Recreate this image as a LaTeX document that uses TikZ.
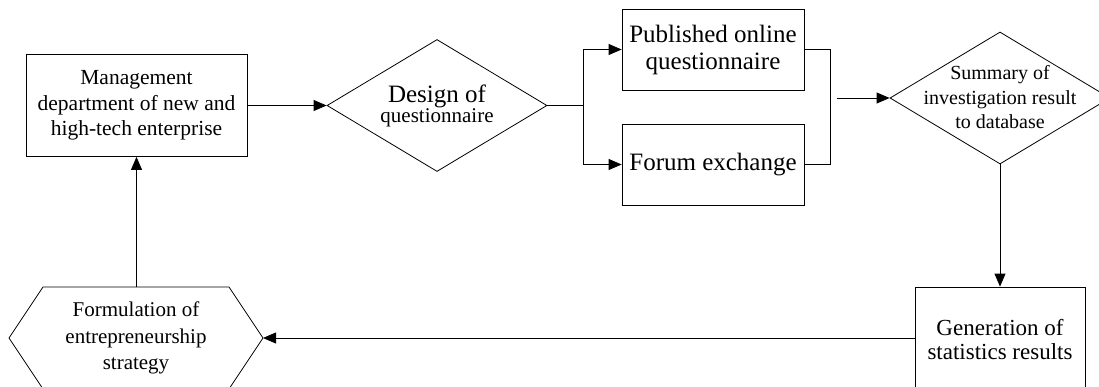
\documentclass[tikz,border=0pt]{standalone}
\usepackage{fontspec}
\setmainfont{Liberation Serif}
\usetikzlibrary{arrows.meta,shapes.geometric}
\begin{document}
\begin{tikzpicture}[x=1pt,y=-1pt,
  every node/.style={inner sep=0pt, align=center},
  box/.style={draw, line width=0.8pt, rectangle},
  dia/.style={draw, line width=0.8pt, diamond},
  conn/.style={line width=0.8pt},
  arr/.style={conn, -{Triangle[length=13pt,width=11pt]}}]
\useasboundingbox (0,0) rectangle (1099,387);
% nodes
\node[box, minimum width=221, minimum height=102, font=\fontsize{21.5}{25.5}\selectfont] (mgmt) at (136.5,105.5)
  {Management\\department of new and\\high-tech enterprise};
\node[dia, minimum width=220, minimum height=132] (design) at (437,105.5) {};
\node (designT) at (437,106) {\fontsize{25}{28}\selectfont Design of\\\fontsize{21}{28}\selectfont questionnaire};
\node[box, minimum width=182, minimum height=81, font=\fontsize{25}{27}\selectfont] (pub) at (713,49.5)
  {Published online\\questionnaire};
\node[box, minimum width=182, minimum height=81, font=\fontsize{25}{27}\selectfont] (forum) at (713,164.5)
  {Forum exchange};
\node[dia, minimum width=220, minimum height=132] (sum) at (1000,98) {};
\node[font=\fontsize{20}{24.5}\selectfont] (sumT) at (1000,97.5) {Summary of\\investigation result\\to database};
\node[box, minimum width=170, minimum height=106, font=\fontsize{23}{24}\selectfont] (gen) at (1000,340)
  {Generation of\\statistics results};
\node[minimum width=186, minimum height=102, font=\fontsize{21}{26.5}\selectfont] (form) at (136,338)
  {Formulation of\\entrepreneurship\\strategy};
\draw[conn] (43,287) -- (229,287) -- (263,338) -- (229,389) -- (43,389) -- (9,338) -- cycle;
\coordinate (formR) at (263,338);
\coordinate (formT) at (136.5,287);
\coordinate (split) at (583,105.5);
\coordinate (merge) at (830,106);
\coordinate (sumIn) at (837,98);
% connectors
\draw[arr] (mgmt.east) -- (design.west);
\draw[conn] (design.east) -- (split);
\draw[arr] (split) |- (pub.west);
\draw[arr] (split) |- (forum.west);
\draw[conn] (pub.east) -| (merge) |- (forum.east);
\draw[arr] (sumIn) -- (sum.west);
\draw[arr] (sum.south) -- (gen.north);
\draw[arr] (gen.west |- formR) -- (formR);
\draw[arr] (formT) -- (mgmt.south);
\end{tikzpicture}
\end{document}
